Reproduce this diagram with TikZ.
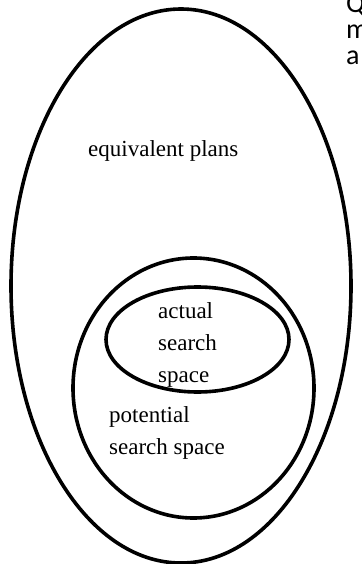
\documentclass[tikz,border=0pt]{standalone}
\usepackage{fontspec}
\setmainfont{Liberation Serif}
\newfontfamily\notefont{Carlito}

\tikzset{
    ring/.style={black, line width=3.6pt},
    planlabel/.style={anchor=base west, inner sep=0pt, align=left,
        font=\fontsize{23}{32}\selectfont},
    notelabel/.style={anchor=base west, inner sep=0pt, align=left,
        font=\notefont\fontsize{28}{26}\selectfont}
}

\begin{document}
\begin{tikzpicture}[x=1pt, y=-1pt]
        \useasboundingbox (0,0) rectangle (361,564);

        % the three sets
        \draw [ring] (181,286) ellipse [x radius=170, y radius=277];
        \draw [ring] (193.5,388) ellipse [x radius=120.5, y radius=130];
        \draw [ring] (197.5,339.5) ellipse [x radius=91.5, y radius=52.5];

        % multi-line nodes sit on the baseline of their last line
        \node [planlabel] (equiv) at (88,157) {equivalent plans};
        \node [planlabel] (actual) at (158,382) {actual\\search\\space};
        \node [planlabel] (potential) at (109,454) {potential\\search space};

        % text cut off at the right edge
        \node [notelabel] (note) at (346,65) {Q\\m\\a};
    \end{tikzpicture}
\end{document}
